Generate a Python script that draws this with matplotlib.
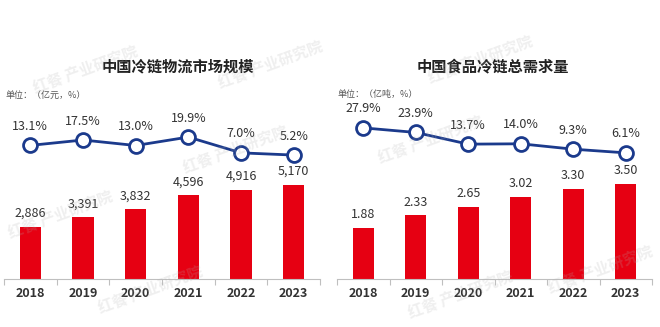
import matplotlib
matplotlib.use('Agg')
import matplotlib.pyplot as plt
import numpy as np

plt.rcParams['font.family'] = ['Noto Sans CJK SC', 'DejaVu Sans']

years = ['2018', '2019', '2020', '2021', '2022', '2023']

# left panel: cold-chain logistics market size
market_size = [2886, 3391, 3832, 4596, 4916, 5170]
market_growth = [13.1, 17.5, 13.0, 19.9, 7.0, 5.2]
market_title = '中国冷链物流市场规模'
market_unit = '单位：（亿元，%）'

# right panel: food cold-chain total demand
demand = [1.88, 2.33, 2.65, 3.02, 3.30, 3.50]
demand_growth = [27.9, 23.9, 13.7, 14.0, 9.3, 6.1]
demand_title = '中国食品冷链总需求量'
demand_unit = '单位：（亿吨，%）'

RED = '#E60012'
NAVY = '#1B3A8C'
TXT = '#333333'

W, H = 660, 327
fig = plt.figure(figsize=(W / 100, H / 100), dpi=100)
fig.patch.set_facecolor('white')


def panel(x0, x1, vals, fmt, bar_max, growth, g_lim, title, unit, title_x, unit_x):
    ax = fig.add_axes([x0 / W, (H - 279) / H, (x1 - x0) / W, 169 / H])
    x = np.arange(len(years))
    ax.bar(x, vals, width=0.4, color=RED, zorder=2)
    ax.set_xlim(-0.5, len(years) - 0.5)
    ax.set_ylim(0, bar_max)
    for xi, v in zip(x, vals):
        ax.annotate(fmt(v), (xi, v), xytext=(0, 5), textcoords='offset points',
                    ha='center', va='bottom', fontsize=9, color=TXT)
    for s in ['top', 'right', 'left']:
        ax.spines[s].set_visible(False)
    ax.spines['bottom'].set_color('#bfbfbf')
    ax.spines['bottom'].set_linewidth(0.8)
    ax.set_yticks([])
    ax.set_xticks(x)
    ax.set_xticklabels(years, fontsize=9, color=TXT, fontweight='bold')
    ax.tick_params(axis='x', length=0, pad=6)
    ax.set_xticks(np.arange(len(years) + 1) - 0.5, minor=True)
    ax.tick_params(axis='x', which='minor', length=4, color='#bfbfbf', width=0.8)
    ax.patch.set_alpha(0)

    ax2 = ax.twinx()
    ax2.plot(x, growth, color=NAVY, lw=2, marker='o', ms=10,
             mfc='white', mec=NAVY, mew=2, zorder=3)
    ax2.set_ylim(*g_lim)
    for xi, g in zip(x, growth):
        ax2.annotate(f'{g:.1f}%', (xi, g), xytext=(0, 9), textcoords='offset points',
                     ha='center', va='bottom', fontsize=9, color=TXT)
    ax2.axis('off')

    fig.text(title_x / W, 1 - 66 / H, title, ha='center', va='center',
             fontsize=11, fontweight='bold', color='#222222')
    fig.text(unit_x / W, 1 - 95 / H, unit, ha='left', va='center',
             fontsize=6.5, color='#555555')


panel(4, 320, market_size, lambda v: f'{v:,}', 9300, market_growth,
      (-96, 42), market_title, market_unit, 178, 5)
panel(337, 652, demand, lambda v: f'{v:.2f}', 6.2, demand_growth,
      (-104, 43.5), demand_title, demand_unit, 493, 338)

# faint watermarks
marks = [(85, 70), (270, 65), (480, 60), (235, 150), (430, 140),
         (150, 290), (460, 295), (600, 270), (60, 215)]
for mx, my in marks:
    fig.text(mx / W, 1 - my / H, '红餐 产业研究院', ha='center', va='center',
             fontsize=11, color='#b0b0b0', alpha=0.2, rotation=20,
             fontweight='bold', zorder=10)

fig.savefig('out.png', dpi=100, facecolor='white')
